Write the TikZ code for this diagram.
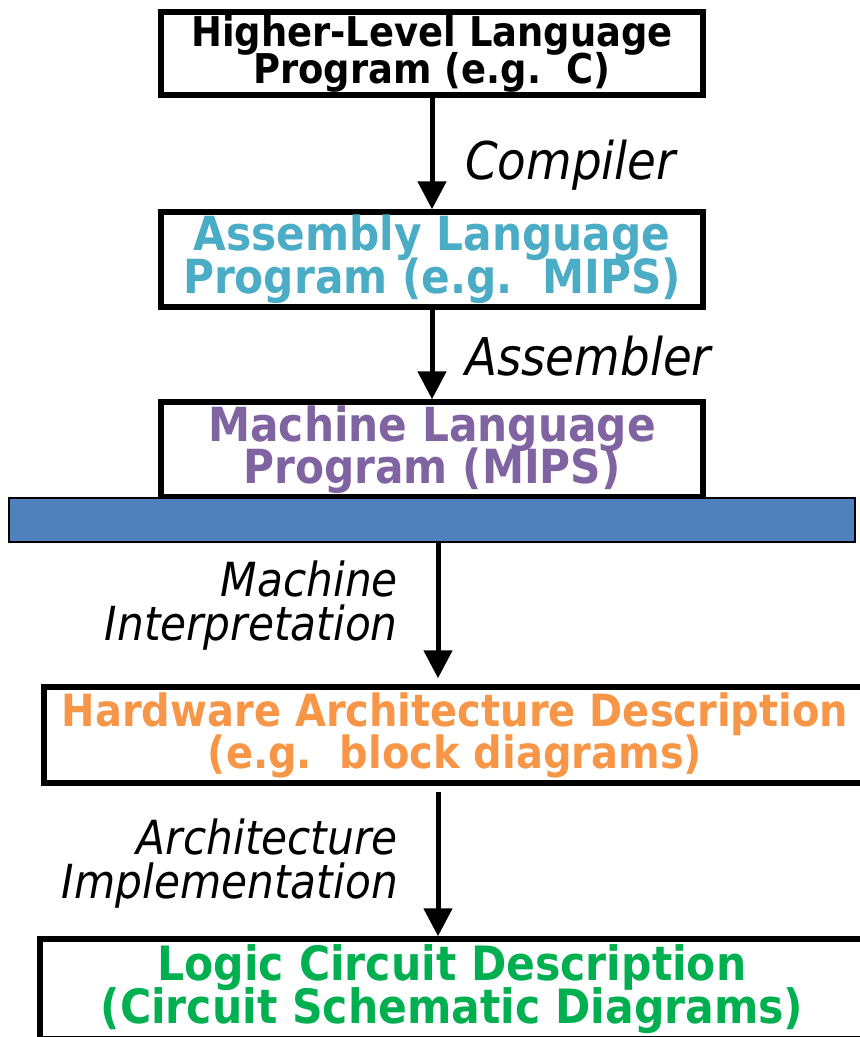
\documentclass[tikz,border=0pt]{standalone}
\usepackage{fontspec}
\setmainfont{DejaVu Sans}[FakeStretch=0.9]
\usepackage{tikz}
\usetikzlibrary{arrows.meta,positioning}
\definecolor{asmblue}{HTML}{4BACC6}
\definecolor{mlpurple}{HTML}{8064A2}
\definecolor{hworange}{HTML}{F79646}
\definecolor{lcgreen}{HTML}{00B050}
\definecolor{barblue}{HTML}{4F81BD}

\begin{document}
\begin{tikzpicture}[x=1pt,y=-1pt,
  level/.style={draw, line width=5.5pt, fill=white, align=center, inner sep=0pt,
                execute at begin node={\lineskiplimit=-100pt}},
  flow/.style={-{Triangle[length=28pt,width=28pt]}, line width=5pt},
  tag/.style={inner sep=0pt, align=right}]
  \clip (0,0) rectangle (860,1037);

  \node[level, minimum width=542pt, minimum height=83pt,
        font=\bfseries\fontsize{41}{37}\selectfont] (hll) at (432,53.5)
    {Higher-Level Language\\Program (e.g.\ \ C)};
  \node[level, minimum width=542pt, minimum height=95pt, text=asmblue,
        font=\bfseries\fontsize{47}{43}\selectfont] (asm) at (432,259.5)
    {Assembly Language\\Program (e.g.\ \ MIPS)};
  \node[level, minimum width=542pt, minimum height=95pt, text=mlpurple,
        font=\bfseries\fontsize{47}{42}\selectfont] (mlp) at (432,449.5)
    {Machine Language\\Program (MIPS)};
  \node[draw, line width=2.5pt, fill=barblue, minimum width=846pt,
        minimum height=44pt, inner sep=0pt] (bar) at (432,520) {};
  \node[level, minimum width=822pt, minimum height=96pt, text=hworange,
        font=\bfseries\fontsize{44.4}{42}\selectfont] (hw) at (455,735)
    {Hardware Architecture Description\\(e.g.\ \ block diagrams)};
  \node[level, minimum width=824pt, minimum height=100pt, text=lcgreen,
        font=\bfseries\fontsize{47.3}{43}\selectfont] (lc) at (452,989)
    {Logic Circuit Description\\(Circuit Schematic Diagrams)};

  \draw[flow] (hll.south) -- (asm.north);
  \draw[flow] (asm.south) -- (mlp.north);

  % lower lane sits a bit right of the boxes' centre
  \coordinate (lane) at (438,0);
  \draw[flow, shorten >=6pt] (bar.south -| lane) -- (hw.north -| lane);
  \draw[flow, shorten <=6pt] (hw.south -| lane) -- (lc.north -| lane);

  \node[tag, anchor=base west, font=\itshape\fontsize{52}{52}\selectfont] (cmp) at (465,179) {Compiler};
  \node[tag, anchor=base west, font=\itshape\fontsize{52}{52}\selectfont] (asmr) at (465,375) {Assembler};
  \node[tag, anchor=east, font=\itshape\fontsize{47}{44}\selectfont] (mint) at (398,606) {Machine\\Interpretation};
  \node[tag, anchor=east, font=\itshape\fontsize{47}{44}\selectfont] (aimp) at (398,864) {Architecture\\Implementation};
\end{tikzpicture}
\end{document}
